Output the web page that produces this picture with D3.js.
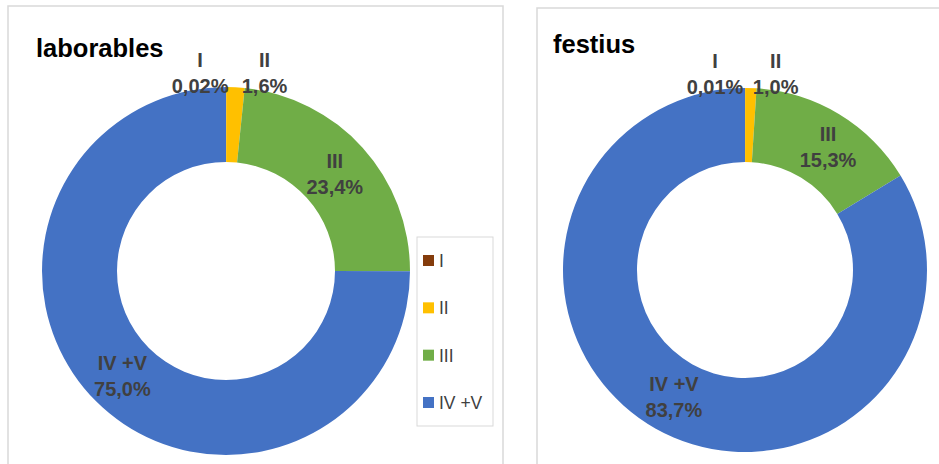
<!DOCTYPE html>
<html>
<head>
<meta charset="utf-8">
<script src="https://cdn.jsdelivr.net/npm/d3@7"></script>
<style>
    body { margin: 0; background: #fff; }
    svg { display: block; font-family: "Liberation Sans", Arial, sans-serif; }
</style>
</head>
<body>
<div id="container"></div>
<script>
// data
const categories = ["I", "II", "III", "IV +V"];
const colors = ["#843C0C", "#FFC000", "#70AD47", "#4472C4"];
const laborables = [0.02, 1.6, 23.4, 75.0];
const laborablesLabels = ["0,02%", "1,6%", "23,4%", "75,0%"];
const festius = [0.01, 1.0, 15.3, 83.7];
const festiusLabels = ["0,01%", "1,0%", "15,3%", "83,7%"];

const width = 939;
const height = 464;

const svg = d3.select("#container").append("svg")
    .attr("width", width)
    .attr("height", height);

const color = d3.scaleOrdinal().domain(categories).range(colors);

// panels (chart frames)
svg.append("rect")
    .attr("x", 8).attr("y", 6).attr("width", 495).attr("height", 470)
    .attr("fill", "#fff").attr("stroke", "#d9d9d9").attr("stroke-width", 1.5);
svg.append("rect")
    .attr("x", 537).attr("y", 8).attr("width", 410).attr("height", 470)
    .attr("fill", "#fff").attr("stroke", "#d9d9d9").attr("stroke-width", 1.5);

// ---------------------------------------------------------------------
// Draw one donut
function drawDonut(cfg) {
    const pie = d3.pie().sort(null).value(d => d);
    const arcs = pie(cfg.values);
    const arc = d3.arc().innerRadius(cfg.r).outerRadius(cfg.R);

    const g = svg.append("g").attr("transform", `translate(${cfg.cx},${cfg.cy})`);

    g.selectAll("path")
        .data(arcs)
        .join("path")
        .attr("fill", (d, i) => color(categories[i]))
        .attr("d", arc);

    // data labels
    arcs.forEach((d, i) => {
        const [mx, my] = arc.centroid(d);
        const [dx, dy] = cfg.nudge[i];
        const outside = (d.endAngle - d.startAngle) < 0.2;
        let x = mx + dx;
        let y1, y2;
        if (outside) {
            y2 = -cfg.R + 6;
            y1 = y2 - 26;
        } else {
            y1 = my - 5 + dy;
            y2 = my + 21 + dy;
        }
        const t = g.append("text")
            .attr("text-anchor", "middle")
            .attr("font-size", 20)
            .attr("font-weight", "bold")
            .attr("fill", "#404040");
        t.append("tspan").attr("x", x).attr("y", y1).text(categories[i]);
        t.append("tspan").attr("x", x).attr("y", y2).text(cfg.labels[i]);
    });

    svg.append("text")
        .attr("x", cfg.titleX).attr("y", cfg.titleY)
        .attr("font-size", 25.5)
        .attr("font-weight", "bold")
        .attr("fill", "#000")
        .text(cfg.title);
}

drawDonut({
    title: "laborables", titleX: 36, titleY: 57,
    values: laborables, labels: laborablesLabels,
    cx: 226, cy: 271, R: 184, r: 109,
    nudge: [[-26, 0], [31, 0], [0, 0], [0, 0]]
});

drawDonut({
    title: "festius", titleX: 553, titleY: 53,
    values: festius, labels: festiusLabels,
    cx: 745, cy: 270, R: 182, r: 108,
    nudge: [[-30, 0], [26, 0], [8, 0], [0, 0]]
});

// ---------------------------------------------------------------------
// Legend
const legend = svg.append("g");
legend.append("rect")
    .attr("x", 417).attr("y", 237).attr("width", 76).attr("height", 189)
    .attr("fill", "#fff").attr("stroke", "#d9d9d9").attr("stroke-width", 1);

const ly = d3.scalePoint().domain(categories).range([261, 403]);
const item = legend.selectAll("g.item")
    .data(categories)
    .join("g")
    .attr("class", "item")
    .attr("transform", d => `translate(423,${ly(d)})`);
item.append("rect")
    .attr("x", 0).attr("y", -6).attr("width", 11).attr("height", 11)
    .attr("fill", d => color(d));
item.append("text")
    .attr("x", 16).attr("y", 6)
    .attr("font-size", 17.5)
    .attr("fill", "#404040")
    .text(d => d);
</script>
</body>
</html>
